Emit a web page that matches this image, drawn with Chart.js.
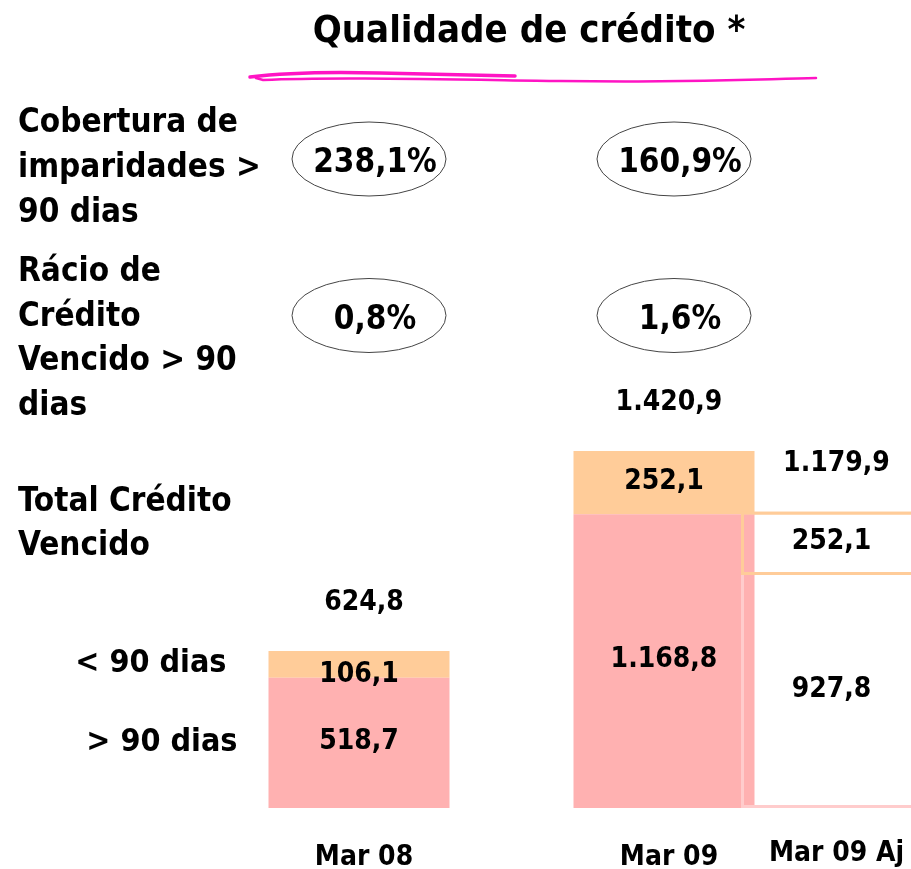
<!DOCTYPE html>
<html lang="pt">
<head>
<meta charset="utf-8">
<title>Qualidade de crédito</title>
<script src="https://cdn.jsdelivr.net/npm/chart.js@4.4.1/dist/chart.umd.min.js"></script>
<style>
  body { margin: 0; background: #fff; }
  #wrap { position: relative; width: 911px; height: 869px; overflow: hidden; }
  #wrap canvas { position: absolute; left: 0; top: 0; }
  .txt {
    position: absolute;
    font-family: 'DejaVu Sans Condensed', 'DejaVu Sans', sans-serif;
    font-weight: bold;
    color: #000;
    white-space: nowrap;
  }
  #title { left: 529px; top: 10px; font-size: 38px; line-height: 38px; transform: translateX(-50%); }
  .side { left: 18px; font-size: 33px; }
  #underline { position: absolute; left: 0; top: 0; }
</style>
</head>
<body>
<div id="wrap">
  <canvas id="creditChart" width="911" height="869"></canvas>
  <div class="txt" id="title">Qualidade de crédito *</div>
  <svg id="underline" width="911" height="100">
    <path d="M250,77 C290,72 340,72 380,73 S470,75 515,76" fill="none" stroke="#ff14c4" stroke-width="3.5" stroke-linecap="round"/>
    <path d="M256,78 L263,80 C330,77 420,79 560,81 S760,79 816,78" fill="none" stroke="#ff14c4" stroke-width="2.5" stroke-linecap="round"/>
  </svg>
  <div class="txt side" style="top:98px; line-height:45px;">Cobertura de<br>imparidades &gt;<br>90 dias</div>
  <div class="txt side" style="top:248px; line-height:44.7px;">Rácio de<br>Crédito<br>Vencido &gt; 90<br>dias</div>
  <div class="txt side" style="top:478px; line-height:44px;">Total Crédito<br>Vencido</div>
</div>
<script>
  // data (milhões de euros)
  const categories = ["Mar 08", "Mar 09"];
  const over90 = [518.7, 1168.8];
  const under90 = [106.1, 252.1];
  const adjLabel = "Mar 09 Aj";
  const adjOver90 = [null, 927.8];
  const adjUnder90 = [null, 252.1];
  const coverage = [238.1, 160.9];      // cobertura de imparidades > 90 dias (%)
  const overdueRatio = [0.8, 1.6];      // rácio de crédito vencido > 90 dias (%)

  const FONT = "'DejaVu Sans Condensed', 'DejaVu Sans', sans-serif";
  const PINK = "#ffb1b1";
  const ORANGE = "#ffcc99";
  const legendGap = [31, 42];           // distance of legend text from the first bar

  function fmt(v, dec) {
    const parts = v.toFixed(dec).split(".");
    return parts[0].replace(/\B(?=(\d{3})+(?!\d))/g, ".") + "," + parts[1];
  }

  // draws value labels, totals, category names, legend text and the ratio ellipses
  const annotate = {
    id: "annotate",
    afterDatasetsDraw(chart) {
      const ctx = chart.ctx;
      const metas = chart.data.datasets.map((d, i) => chart.getDatasetMeta(i));

      // adjusted bars sit on top of the Mar 09 bar
      metas.forEach((meta, i) => {
        if (chart.data.datasets[i].stack !== "adj") return;
        meta.data.forEach((el, j) => {
          if (chart.data.datasets[i].data[j] !== null) el.draw(ctx);
        });
      });

      ctx.save();
      ctx.fillStyle = "#000";
      ctx.textAlign = "center";
      ctx.textBaseline = "alphabetic";

      // segment values
      ctx.font = "bold 28px " + FONT;
      chart.data.datasets.forEach((ds, i) => {
        ds.data.forEach((v, j) => {
          if (v === null) return;
          const el = metas[i].data[j];
          const mid = Math.max((el.y + el.base) / 2 - 4, el.y + 21);
          ctx.fillText(fmt(v, 1), el.x, mid + 10);
        });
      });

      // totals and category names, one per stack
      const stacks = {};
      chart.data.datasets.forEach((ds, i) => {
        ds.data.forEach((v, j) => {
          if (v === null) return;
          const key = ds.stack + "|" + j;
          const el = metas[i].data[j];
          if (!stacks[key]) stacks[key] = { sum: 0, top: el.y, x: el.x, stack: ds.stack, idx: j };
          stacks[key].sum += v;
          stacks[key].top = Math.min(stacks[key].top, el.y);
        });
      });
      Object.values(stacks).forEach(s => {
        ctx.fillText(fmt(s.sum, 1), s.x + 5, s.top - 51 + 10);
        const name = s.stack === "adj" ? adjLabel : categories[s.idx];
        ctx.fillText(name, s.x + 5, s.stack === "adj" ? 861 : 865);
      });

      // legend text beside the first bar
      ctx.font = "bold 32px " + FONT;
      ctx.textAlign = "right";
      [0, 1].forEach(i => {
        const el = metas[i].data[0];
        const mid = (el.y + el.base) / 2 - 4;
        ctx.fillText(chart.data.datasets[i].label, el.x - el.width / 2 - legendGap[i], mid + 12);
      });

      // ellipses with the ratios
      ctx.textAlign = "center";
      ctx.font = "bold 33px " + FONT;
      ctx.strokeStyle = "#444";
      ctx.lineWidth = 1;
      const rows = [{ vals: coverage, y: 159 }, { vals: overdueRatio, y: 315.5 }];
      rows.forEach(row => {
        row.vals.forEach((v, j) => {
          const x = metas[0].data[j].x;
          ctx.beginPath();
          ctx.ellipse(x + 10, row.y, 77, 37, 0, 0, Math.PI * 2);
          ctx.stroke();
          ctx.fillText(fmt(v, 1) + "%", x + 16, row.y + 1 + 12);
        });
      });
      ctx.restore();
    }
  };

  const ctx = document.getElementById("creditChart").getContext("2d");
  new Chart(ctx, {
    type: "bar",
    data: {
      labels: categories,
      datasets: [
        { label: "> 90 dias", data: over90, stack: "base", backgroundColor: PINK },
        { label: "< 90 dias", data: under90, stack: "base", backgroundColor: ORANGE },
        { label: "> 90 dias (aj.)", data: adjOver90, stack: "adj", backgroundColor: "rgba(0,0,0,0)",
          borderColor: "#ffcccc", borderWidth: 3, borderSkipped: "end" },
        { label: "< 90 dias (aj.)", data: adjUnder90, stack: "adj", backgroundColor: "rgba(0,0,0,0)",
          borderColor: ORANGE, borderWidth: 3, borderSkipped: false }
      ]
    },
    options: {
      responsive: false,
      animation: false,
      events: [],
      layout: { padding: { left: 359, right: 163.25, top: 406, bottom: 61 } },
      datasets: {
        bar: {
          categoryPercentage: 0.8617,
          barPercentage: 1.1,
          maxBarThickness: 181,
          skipNull: true,
          clip: false,
          inflateAmount: 0
        }
      },
      scales: {
        x: { display: false, stacked: true, offset: false },
        y: { display: false, stacked: true, min: 0, max: 1600 }
      },
      plugins: {
        legend: { display: false },
        tooltip: { enabled: false }
      }
    },
    plugins: [annotate]
  });
</script>
</body>
</html>
